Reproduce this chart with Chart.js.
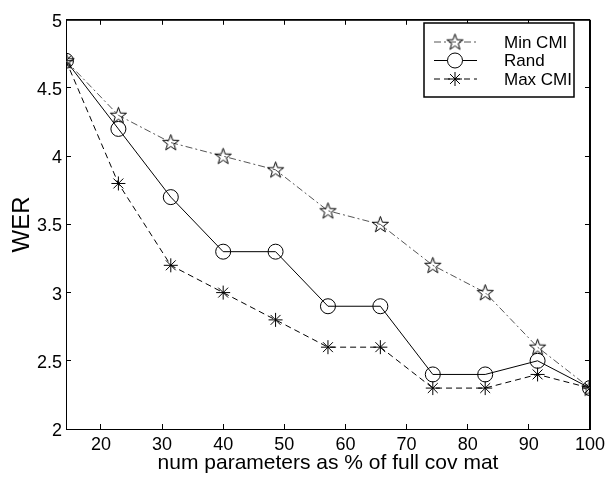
<!DOCTYPE html>
<html>
<head>
<meta charset="utf-8">
<script src="https://cdn.jsdelivr.net/npm/chart.js@4"></script>
<style>
  html, body { margin: 0; padding: 0; background: #fff; }
</style>
</head>
<body>
<canvas id="werChart" width="615" height="478"></canvas>
<script>
// donnees
const numParams = [14.29, 22.86, 31.43, 40, 48.57, 57.14, 65.71, 74.29, 82.86, 91.43, 100];
const minCmi = [4.7, 4.3, 4.1, 4.0, 3.9, 3.6, 3.5, 3.2, 3.0, 2.6, 2.3];
const rand = [4.7, 4.2, 3.7, 3.3, 3.3, 2.9, 2.9, 2.4, 2.4, 2.5, 2.3];
const maxCmi = [4.7, 3.8, 3.2, 3.0, 2.8, 2.6, 2.6, 2.3, 2.3, 2.4, 2.3];
const xTicks = [20, 30, 40, 50, 60, 70, 80, 90, 100];
const yTicks = [2, 2.5, 3, 3.5, 4, 4.5, 5];
const seriesNames = ["Min CMI", "Rand", "Max CMI"];

const FONT = "'Liberation Sans', Arial, sans-serif";

// etoile a 5 branches (marqueur 'p' de matlab)
const makePentagram = (r) => {
  const c = document.createElement("canvas");
  const size = Math.ceil(r * 2 + 4);
  c.width = size; c.height = size;
  const g = c.getContext("2d");
  const cx = size / 2, cy = size / 2 + 0.5;
  g.beginPath();
  for (let i = 0; i < 10; i++) {
    const rad = i % 2 === 0 ? r : r * 0.4;
    const a = -Math.PI / 2 + i * Math.PI / 5;
    const px = cx + rad * Math.cos(a), py = cy + rad * Math.sin(a);
    if (i === 0) g.moveTo(px, py); else g.lineTo(px, py);
  }
  g.closePath();
  g.strokeStyle = "#000";
  g.lineWidth = 1;
  g.stroke();
  return c;
};
const star = makePentagram(8.5);

const toXY = (ys) => ys.map((y, i) => ({ x: numParams[i], y: y }));

const styles = [
  { dash: [7, 3, 2, 3], pointStyle: star, radius: 8, color: "#555" },
  { dash: [], pointStyle: "circle", radius: 7.5, color: "#000" },
  { dash: [6, 4], pointStyle: "star", radius: 7, color: "#000" }
];

// cadre (avant les courbes) + legende (a la fin)
const matlabBox = {
  id: "matlabBox",
  beforeDatasetsDraw(chart) {
    const { ctx, chartArea: a } = chart;
    ctx.save();
    ctx.setLineDash([]);
    ctx.strokeStyle = "#000";
    ctx.lineWidth = 1;
    ctx.strokeRect(a.left + 0.5, a.top + 0.5, a.right - a.left, a.bottom - a.top);
    ctx.restore();
  },
  afterDraw(chart) {
    const ctx = chart.ctx;
    ctx.save();
    const bx = 424, by = 23, bw = 150, bh = 74;
    ctx.fillStyle = "#fff";
    ctx.fillRect(bx, by, bw, bh);
    ctx.strokeStyle = "#000";
    ctx.lineWidth = 1.5;
    ctx.strokeRect(bx, by, bw, bh);
    ctx.font = "17px " + FONT;
    ctx.textBaseline = "middle";
    ctx.textAlign = "left";
    seriesNames.forEach((name, i) => {
      const y = 42 + i * 18.5;
      const s = styles[i];
      ctx.lineWidth = 1;
      ctx.strokeStyle = s.color;
      ctx.setLineDash(s.dash);
      ctx.beginPath();
      ctx.moveTo(434, y); ctx.lineTo(477, y);
      ctx.stroke();
      ctx.setLineDash([]);
      ctx.strokeStyle = "#000";
      ctx.fillStyle = "#fff";
      Chart.helpers.drawPoint(ctx, { pointStyle: s.pointStyle, radius: s.radius, rotation: 0, borderWidth: 1 }, 455, y);
      ctx.fillStyle = "#000";
      ctx.fillText(name, 504, y + 1);
    });
    ctx.restore();
  }
};

// axes facon matlab : cadre complet, graduations vers l'interieur
const boxAxis = (extra) => Object.assign({
  grid: { display: true, drawOnChartArea: false, drawTicks: true, tickLength: -5, color: "#000", lineWidth: 1 },
  border: { display: true, color: "#000", width: 1 }
}, extra);

new Chart(document.getElementById("werChart"), {
  type: "line",
  data: {
    datasets: [minCmi, rand, maxCmi].map((vals, i) => ({
      label: seriesNames[i],
      data: toXY(vals),
      borderColor: styles[i].color,
      borderWidth: 1,
      borderDash: styles[i].dash,
      pointStyle: styles[i].pointStyle,
      pointRadius: styles[i].radius,
      pointBorderColor: "#000",
      pointBorderWidth: 1,
      pointBackgroundColor: "rgba(0,0,0,0)",
      tension: 0,
      fill: false
    }))
  },
  options: {
    responsive: false,
    animation: false,
    devicePixelRatio: 1,
    layout: { padding: { top: 8, right: 19, left: 0, bottom: 0 } },
    plugins: { legend: { display: false }, tooltip: { enabled: false } },
    scales: {
      x: boxAxis({
        type: "linear",
        position: "bottom",
        min: 14.29,
        max: 100,
        afterBuildTicks: s => { s.ticks = xTicks.map(v => ({ value: v })); },
        afterFit: s => { s.height = 49; },
        ticks: { color: "#000", padding: 10, font: { size: 18, family: FONT }, callback: v => String(v) },
        title: { display: true, text: "num parameters as % of full cov mat", color: "#000", font: { size: 21, family: FONT }, padding: { top: 0, bottom: 2 } }
      }),
      x2: boxAxis({
        type: "linear",
        position: "top",
        min: 14.29,
        max: 100,
        afterBuildTicks: s => { s.ticks = xTicks.map(v => ({ value: v })); },
        afterFit: s => { s.height = 0; },
        ticks: { display: false }
      }),
      y: boxAxis({
        position: "left",
        min: 2,
        max: 5,
        afterBuildTicks: s => { s.ticks = yTicks.map(v => ({ value: v })); },
        afterFit: s => { s.width = 66; },
        ticks: { color: "#000", padding: 9, labelOffset: 2, font: { size: 18, family: FONT }, callback: v => String(v) },
        title: { display: true, text: "WER", color: "#000", font: { size: 24, family: FONT }, padding: { top: 8, bottom: 0 } }
      }),
      y2: boxAxis({
        position: "right",
        min: 2,
        max: 5,
        afterBuildTicks: s => { s.ticks = yTicks.map(v => ({ value: v })); },
        afterFit: s => { s.width = 0; },
        ticks: { display: false }
      })
    }
  },
  plugins: [matlabBox]
});
</script>
</body>
</html>
